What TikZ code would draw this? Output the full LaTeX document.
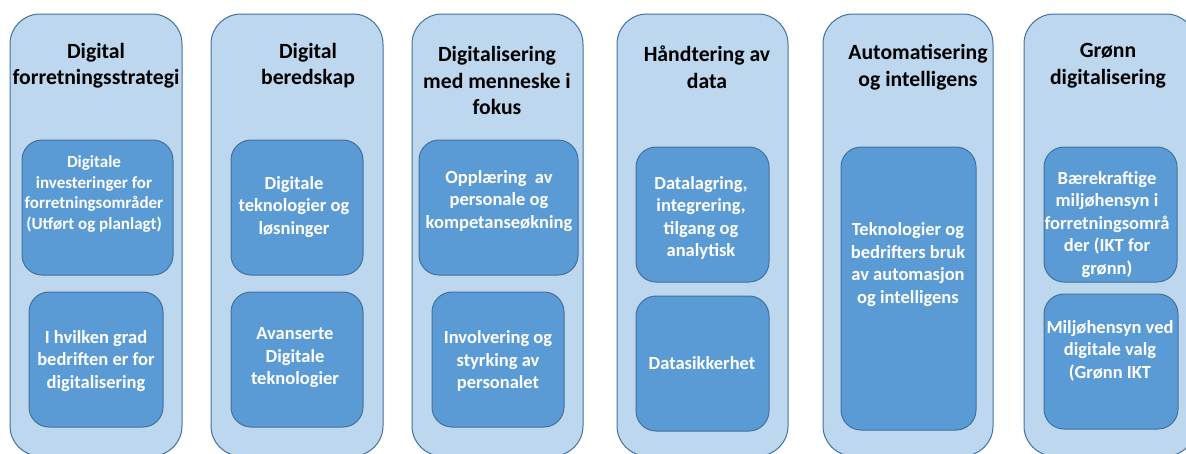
\documentclass[tikz,border=0pt]{standalone}
\usepackage{fontspec}
\setmainfont{Carlito}
\definecolor{outerfill}{HTML}{BDD7EE}
\definecolor{boxline}{HTML}{41719C}
\definecolor{innerfill}{HTML}{5B9BD5}
\tikzset{
  colbox/.style={draw=boxline, fill=outerfill, line width=1pt, rounded corners=30pt, anchor=north west, inner sep=0pt, outer sep=0pt},
  itembox/.style={draw=boxline, fill=innerfill, line width=1pt, rounded corners=20pt, anchor=north west, inner sep=0pt, outer sep=0pt},
  title/.style={align=center, inner sep=0pt, font=\fontsize{21.7}{26.5}\selectfont\bfseries, text=black},
  itemtext/.style={align=center, inner sep=0pt, font=\fontsize{18.5}{22.5}\selectfont\bfseries, text=white},
  smalltext/.style={align=center, inner sep=0pt, font=\fontsize{17}{20.7}\selectfont\bfseries, text=white}
}
\begin{document}
\begin{tikzpicture}[x=1pt,y=-1pt]
\useasboundingbox (0,0) rectangle (1186,453);
\clip (0,0) rectangle (1186,453);
% columns
\node[colbox, minimum width=172pt, minimum height=442pt] (c1) at (10,14) {};
\node[colbox, minimum width=172pt, minimum height=442pt] (c2) at (211,14) {};
\node[colbox, minimum width=171pt, minimum height=442pt] (c3) at (412,14) {};
\node[colbox, minimum width=171pt, minimum height=442pt] (c4) at (617,14) {};
\node[colbox, minimum width=170pt, minimum height=442pt] (c5) at (823,14) {};
\node[colbox, minimum width=172pt, minimum height=442pt] (c6) at (1024,14) {};
% titles
\node[title] (t1) at (96,65.5) {Digital\\forretningsstrategi};
\node[title] (t2) at (308,65.5) {Digital\\beredskap};
\node[title] (t3) at (497,80.5) {Digitalisering\\med menneske i\\fokus};
\node[title] (t4) at (707,67) {Håndtering av\\data};
\node[title] (t5) at (918,67) {Automatisering\\og intelligens};
\node[title] (t6) at (1108,65.5) {Grønn\\digitalisering};
% inner boxes
\node[itembox, minimum width=151pt, minimum height=135pt] (b11) at (22,140) {};
\node[itembox, minimum width=134pt, minimum height=135pt] (b12) at (29,292) {};
\node[itembox, minimum width=132pt, minimum height=135pt] (b21) at (231,140) {};
\node[itembox, minimum width=132pt, minimum height=135pt] (b22) at (231,292) {};
\node[itembox, minimum width=159pt, minimum height=135pt] (b31) at (419,140) {};
\node[itembox, minimum width=132pt, minimum height=135pt] (b32) at (432,292) {};
\node[itembox, minimum width=133pt, minimum height=135pt] (b41) at (636,147) {};
\node[itembox, minimum width=133pt, minimum height=135pt] (b42) at (636,296) {};
\node[itembox, minimum width=135pt, minimum height=283pt] (b51) at (841,147) {};
\node[itembox, minimum width=133pt, minimum height=135pt] (b61) at (1044,147) {};
\node[itembox, minimum width=134pt, minimum height=135pt] (b62) at (1044,294) {};
% inner texts
\node[smalltext] (x11) at (94,194) {Digitale\\investeringer for\\forretningsområder\\(Utført og planlagt)};
\node[itemtext] (x12) at (96,361) {I hvilken grad\\bedriften er for\\digitalisering};
\node[itemtext] (x21) at (294,207) {Digitale\\teknologier og\\løsninger};
\node[itemtext] (x22) at (295,358) {Avanserte\\Digitale\\teknologier};
\node[itemtext] (x31) at (499,201) {Opplæring\ \ av\\personale og\\kompetanseøkning};
\node[itemtext] (x32) at (498,361) {Involvering og\\styrking av\\personalet};
\node[itemtext] (x41) at (701,218) {Datalagring,\\integrering,\\tilgang og\\analytisk};
\node[itemtext] (x42) at (702,363) {Datasikkerhet};
\node[itemtext] (x51) at (908,264.5) {Teknologier og\\bedrifters bruk\\av automasjon\\og intelligens};
\node[itemtext] (x61) at (1107,224.5) {Bærekraftige\\miljøhensyn i\\forretningsområ\\der (IKT for\\grønn)};
\node[itemtext] (x62) at (1110,350.5) {Miljøhensyn ved\\digitale valg\\(Grønn IKT};
\end{tikzpicture}
\end{document}
